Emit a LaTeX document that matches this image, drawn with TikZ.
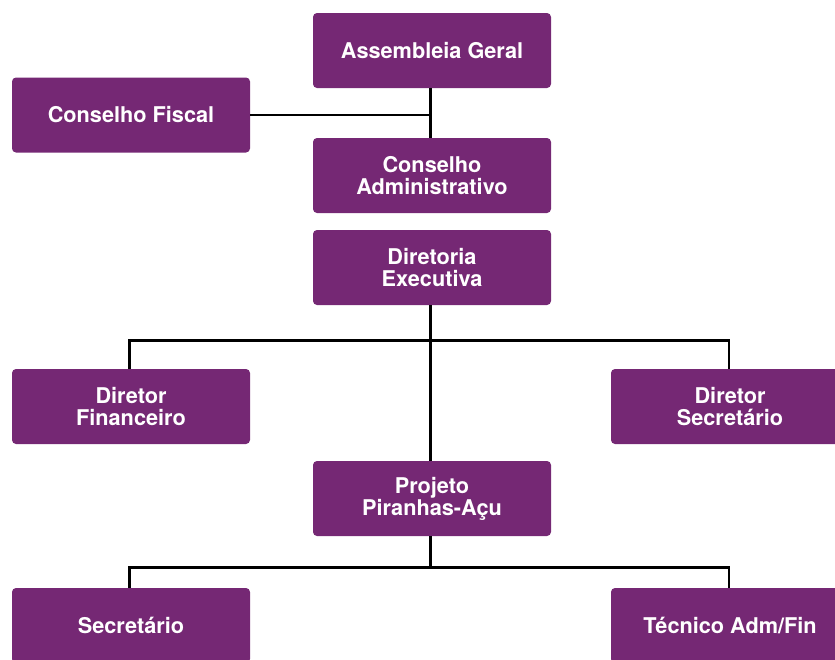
\documentclass[tikz,border=0pt]{standalone}
\usepackage{fontspec}
\setmainfont{TeX Gyre Heros}
\definecolor{boxpurple}{RGB}{117,40,116}
\begin{document}
\begin{tikzpicture}[x=1pt,y=-1pt,
  orgbox/.style={fill=boxpurple, draw=none, rounded corners=4pt,
    minimum width=238pt, minimum height=75pt, inner sep=0pt,
    text=white, align=center,
    font=\fontsize{21.7}{22}\selectfont\bfseries},
  conn/.style={draw=black, line width=2.2pt}]
\useasboundingbox (0,0) rectangle (835,659);
\clip (0,0) rectangle (835,659);
\node[orgbox] (ag) at (432,50.5) {Assembleia Geral};
\node[orgbox] (cf) at (131,115) {Conselho Fiscal};
\node[orgbox] (ca) at (432,175.5) {Conselho\\Administrativo};
\node[orgbox] (de) at (432,267.5) {Diretoria\\Executiva};
\node[orgbox] (df) at (131,406.5) {Diretor\\Financeiro};
\node[orgbox] (ds) at (730,406.5) {Diretor\\Secret\'ario};
\node[orgbox] (pp) at (432,498.5) {Projeto\\Piranhas-A\c{c}u};
\node[orgbox] (se) at (131,625.5) {Secret\'ario};
\node[orgbox] (te) at (730,625.5) {T\'ecnico Adm/Fin};
\coordinate (bus1) at (430.5,340.5);
\coordinate (bus2) at (430.5,567.5);
\draw[conn] ([xshift=-1.5pt]ag.south) -- ([xshift=-1.5pt]ca.north);
\draw[conn] (cf.east) -- (cf.east -| bus1);
\draw[conn] ([xshift=-1.5pt]de.south) -- ([xshift=-1.5pt]pp.north);
\draw[conn] ([xshift=-1.5pt]df.north) |- (bus1) -| ([xshift=-1pt]ds.north);
\draw[conn] ([xshift=-1.5pt]pp.south) -- (bus2);
\draw[conn] ([xshift=-1.5pt]se.north) |- (bus2) -| ([xshift=-1pt]te.north);
\end{tikzpicture}
\end{document}
